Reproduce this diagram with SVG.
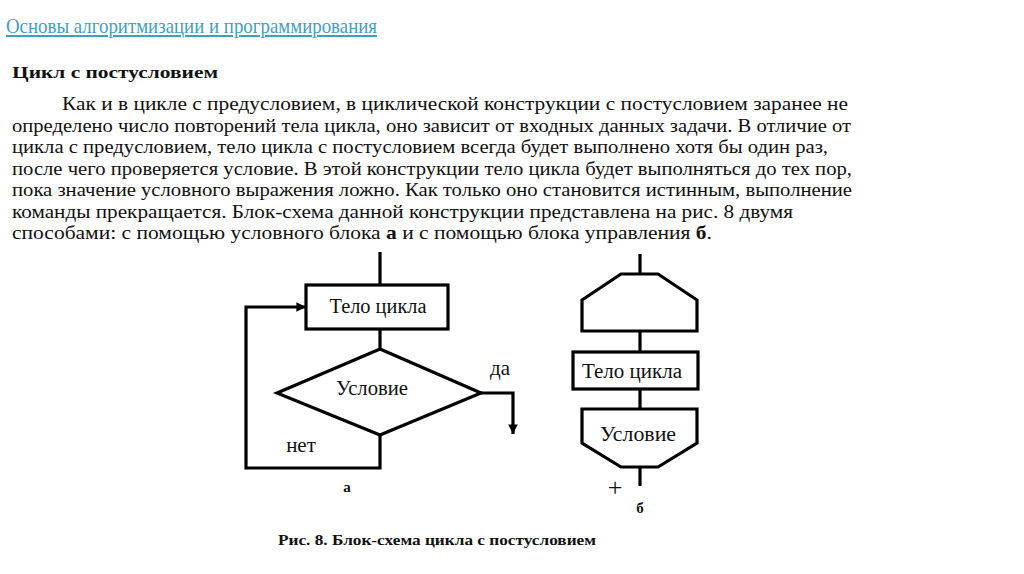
<svg xmlns="http://www.w3.org/2000/svg" width="1024" height="574" viewBox="0 0 1024 574">
<defs>
<style>
.title{font-family:"Liberation Serif","Times New Roman",serif;font-size:21px;fill:#3f9fbf;text-decoration:underline}
.h{font-family:"Liberation Serif","Times New Roman",serif;font-size:17px;font-weight:bold;fill:#111}
.p{font-family:"Liberation Serif","Times New Roman",serif;font-size:19px;fill:#111}
.d{font-family:"Liberation Serif","Times New Roman",serif;font-size:20px;fill:#111}
.cap{font-family:"Liberation Serif","Times New Roman",serif;font-size:15px;font-weight:bold;fill:#111}
.shape{fill:#fff;stroke:#000;stroke-width:3.2}
.line{fill:none;stroke:#000;stroke-width:3.2}
</style>
<marker id="ah" viewBox="0 0 10 10" refX="10" refY="5" markerWidth="3" markerHeight="3" orient="auto" markerUnits="strokeWidth">
<path d="M0,0 L10,5 L0,10 z" fill="#000"/>
</marker>
</defs>
<rect width="1024" height="574" fill="#fff"/>
<text class="title" x="6" y="33" textLength="371" lengthAdjust="spacingAndGlyphs">Основы алгоритмизации и программирования</text>
<text class="h" x="12" y="78" textLength="206" lengthAdjust="spacingAndGlyphs">Цикл с постусловием</text>
<g class="p">
<text x="62" y="110" textLength="786" lengthAdjust="spacingAndGlyphs">Как и в цикле с предусловием, в циклической конструкции с постусловием заранее не</text>
<text x="12" y="132" textLength="839" lengthAdjust="spacingAndGlyphs">определено число повторений тела цикла, оно зависит от входных данных задачи. В отличие от</text>
<text x="12" y="153" textLength="816" lengthAdjust="spacingAndGlyphs">цикла с предусловием, тело цикла с постусловием всегда будет выполнено хотя бы один раз,</text>
<text x="12" y="175" textLength="840" lengthAdjust="spacingAndGlyphs">после чего проверяется условие. В этой конструкции тело цикла будет выполняться до тех пор,</text>
<text x="12" y="196" textLength="840" lengthAdjust="spacingAndGlyphs">пока значение условного выражения ложно. Как только оно становится истинным, выполнение</text>
<text x="12" y="218" textLength="781" lengthAdjust="spacingAndGlyphs">команды прекращается. Блок-схема данной конструкции представлена на рис. 8 двумя</text>
<text x="12" y="239" textLength="700" lengthAdjust="spacingAndGlyphs">способами: с помощью условного блока <tspan font-weight="bold">а</tspan> и с помощью блока управления <tspan font-weight="bold">б</tspan>.</text>
</g>
<g id="connectors-a">
<line class="line" x1="380" y1="252" x2="380" y2="285"/>
<line class="line" x1="380" y1="329" x2="380" y2="349"/>
<polyline class="line" points="481,393 513,393 513,434" marker-end="url(#ah)"/>
<polyline class="line" points="380,435 380,468 246,468 246,307 306,307" marker-end="url(#ah)"/>
</g>
<g id="body-a">
<rect class="shape" x="306" y="285" width="142" height="44"/>
<text class="d" x="378" y="313" text-anchor="middle" textLength="97" lengthAdjust="spacingAndGlyphs">Тело цикла</text>
</g>
<g id="cond-a">
<polygon class="shape" points="380,349 481,393 380,435 277,393"/>
<text class="d" x="372" y="395" text-anchor="middle" textLength="72" lengthAdjust="spacingAndGlyphs">Условие</text>
</g>
<text class="d" x="500" y="375" text-anchor="middle" style="font-size:21px">да</text>
<text class="d" x="301" y="452" text-anchor="middle" style="font-size:21px">нет</text>
<text class="cap" x="347" y="492" text-anchor="middle">а</text>
<g id="connectors-b">
<line class="line" x1="640" y1="254" x2="640" y2="274"/>
<line class="line" x1="640" y1="331" x2="640" y2="352"/>
<line class="line" x1="640" y1="389" x2="640" y2="409"/>
<line class="line" x1="640" y1="467" x2="640" y2="486"/>
</g>
<g id="loop-b">
<polygon class="shape" points="621,274 658,274 697,300 697,331 582,331 582,300"/>
</g>
<g id="body-b">
<rect class="shape" x="573" y="352" width="125" height="37"/>
<text class="d" x="632" y="378" text-anchor="middle" textLength="100" lengthAdjust="spacingAndGlyphs">Тело цикла</text>
</g>
<g id="cond-b">
<polygon class="shape" points="582,409 697,409 697,443 658,467 621,467 582,443"/>
<text class="d" x="638" y="441" text-anchor="middle" textLength="76" lengthAdjust="spacingAndGlyphs">Условие</text>
</g>
<text class="d" x="615" y="496" text-anchor="middle" style="font-size:26px">+</text>
<text class="cap" x="640" y="513" text-anchor="middle">б</text>
<text class="cap" x="278" y="545" textLength="318" lengthAdjust="spacingAndGlyphs">Рис. 8. Блок-схема цикла с постусловием</text>
</svg>
